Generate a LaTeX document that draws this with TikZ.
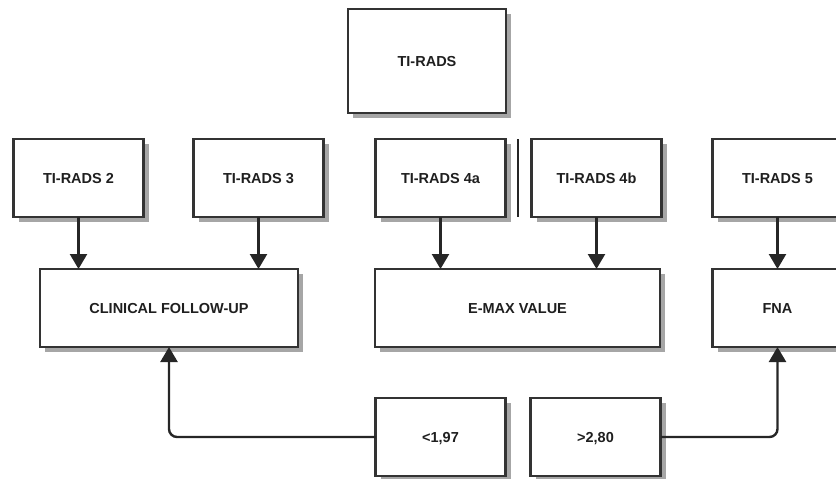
\documentclass[tikz,border=0pt]{standalone}
\usepackage{fontspec}
\setmainfont{Liberation Sans}
\usetikzlibrary{positioning, arrows.meta, shadows}

\begin{document}
\begin{tikzpicture}[
				x=1pt, y=-1pt,
				>={Triangle[width=17pt,length=15pt]},
				every node/.style={font=\fontsize{14.5}{16}\selectfont\bfseries, text=black!88},
				box/.style={draw=black!80, line width=2.6pt, fill=white, rectangle, outer sep=0pt,
					minimum width=130pt, minimum height=78pt, text height=10.5pt, text depth=0pt,
					drop shadow={shadow xshift=5pt, shadow yshift=-5pt, fill=black!35, opacity=1}},
				link/.style={->, line width=2.4pt, draw=black!85, rounded corners=8pt}]

			\clip (0,0) rectangle (836,479);

			\node[box, minimum width=158pt, minimum height=104pt] (tirads) at (427,61) {TI-RADS};

			\node[box] (tirads_2) at (78.5,178) {TI-RADS 2};
			\node[box, right=50pt of tirads_2] (tirads_3) {TI-RADS 3};
			\node[box, right=52pt of tirads_3] (tirads_4a) {TI-RADS 4a};
			\node[box, right=26pt of tirads_4a] (tirads_4b) {TI-RADS 4b};
			\node[box, right=51pt of tirads_4b] (tirads_5) {TI-RADS 5};

			\node[box, minimum width=258pt] (follow_up) at (169,308) {CLINICAL FOLLOW-UP};
			\node[box, minimum width=285pt] (emax) at (517.5,308) {E-MAX VALUE};
			\node[box, below=52pt of tirads_5] (fna) {FNA};

			\node[box] (low) at (440.5,437) {<1,97};
			\node[box, right=25pt of low] (high) {>2,80};

			\draw[line width=2.6pt, black!85] ([xshift=12.5pt]tirads_4a.north east) -- ([xshift=12.5pt]tirads_4a.south east);

			\draw[link] (tirads_2.south) -- (tirads_2.south |- follow_up.north);
			\draw[link] (tirads_3.south) -- (tirads_3.south |- follow_up.north);
			\draw[link] (tirads_4a.south) -- (tirads_4a.south |- emax.north);
			\draw[link] (tirads_4b.south) -- (tirads_4b.south |- emax.north);
			\draw[link] (tirads_5.south) -- (fna.north);

			\draw[link] (low.west) -| (follow_up.south);
			\draw[link] (high.east) -| (fna.south);

		\end{tikzpicture}
\end{document}
